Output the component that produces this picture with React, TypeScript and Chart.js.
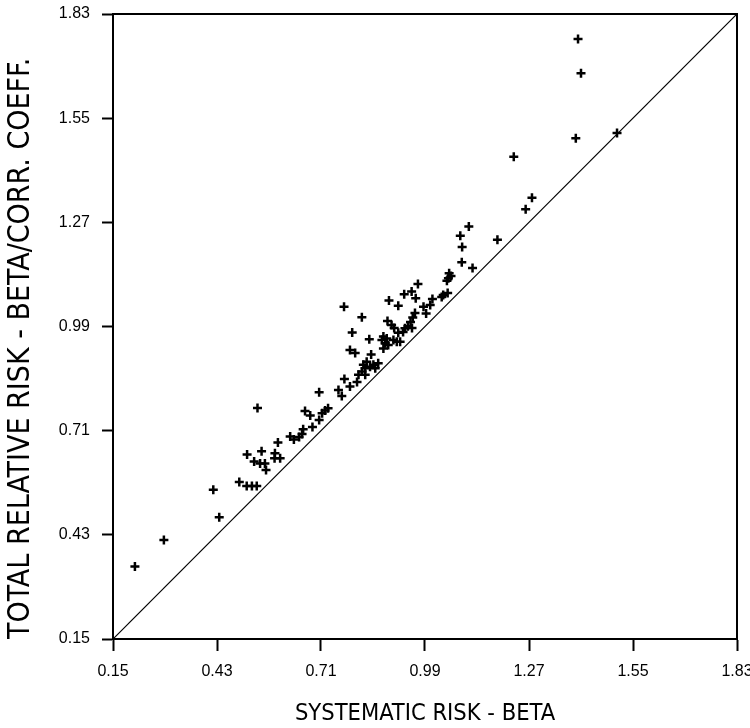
import { useEffect, useRef } from 'react';
import { Chart, registerables } from 'chart.js';

Chart.register(...registerables);

const betaValues = [
  0.209, 0.287, 0.420, 0.436, 0.539, 0.490, 0.510, 0.524, 0.537, 0.511,
  0.530, 0.550, 0.546, 0.559, 0.562, 0.586, 0.585, 0.600, 0.594, 0.627,
  0.637, 0.651, 0.659, 0.662, 0.687, 0.667, 0.681, 0.705, 0.705, 0.713,
  0.721, 0.729, 0.757, 0.766, 0.773, 0.788, 0.807, 0.772, 0.794, 0.820,
  0.788, 0.802, 0.840, 0.845, 0.833, 0.824, 0.829, 0.820, 0.829, 0.842,
  0.851, 0.864, 0.856, 0.811, 0.878, 0.887, 0.874, 0.883, 0.891, 0.905,
  0.878, 0.914, 0.923, 0.889, 0.900, 0.907, 0.918, 0.931, 0.936, 0.957,
  0.951, 0.944, 0.955, 0.963, 0.993, 0.986, 1.004, 1.010, 1.035, 1.039,
  1.051, 0.893, 0.918, 0.934, 0.954, 0.965, 0.971, 1.055, 1.060, 1.053,
  1.049, 1.089, 1.118, 1.090, 1.085, 1.108, 1.185, 1.261, 1.278, 1.229,
  1.396, 1.402, 1.410, 1.507,
];

const totalRiskValues = [
  0.345, 0.416, 0.551, 0.477, 0.771, 0.572, 0.561, 0.561, 0.561, 0.646,
  0.627, 0.655, 0.622, 0.622, 0.604, 0.649, 0.636, 0.636, 0.678, 0.694,
  0.686, 0.693, 0.701, 0.714, 0.720, 0.763, 0.751, 0.739, 0.813, 0.757,
  0.764, 0.770, 0.819, 0.803, 0.849, 0.829, 0.841, 1.043, 0.974, 1.015,
  0.927, 0.919, 0.956, 0.915, 0.895, 0.887, 0.878, 0.869, 0.860, 0.882,
  0.887, 0.891, 0.878, 0.860, 0.963, 0.958, 0.954, 0.945, 0.940, 0.954,
  0.931, 0.949, 0.949, 1.005, 0.994, 0.986, 0.973, 0.975, 0.985, 1.014,
  1.002, 0.991, 0.986, 1.026, 1.025, 1.043, 1.048, 1.064, 1.069, 1.075,
  1.080, 1.060, 1.046, 1.077, 1.084, 1.066, 1.104, 1.133, 1.126, 1.120,
  1.113, 1.163, 1.147, 1.204, 1.234, 1.259, 1.223, 1.305, 1.336, 1.446,
  1.496, 1.763, 1.671, 1.510,
];

const axisTicks = [0.15, 0.43, 0.71, 0.99, 1.27, 1.55, 1.83];
const diagonalEnds = [0.15, 1.83];
const xTitle = 'SYSTEMATIC RISK - BETA';
const yTitle = 'TOTAL RELATIVE RISK - BETA/CORR. COEFF.';

const titleFamily = "'DejaVu Sans Condensed', 'DejaVu Sans', sans-serif";
const tickFamily = "'Liberation Sans', 'DejaVu Sans', sans-serif";

const framePlugin = {
  id: 'frame',
  afterDatasetsDraw(chart: any) {
    const { ctx, chartArea } = chart;
    const { left, top, right, bottom } = chartArea;
    ctx.save();
    ctx.strokeStyle = '#000';
    ctx.lineWidth = 2;
    ctx.beginPath();
    ctx.moveTo(left, top);
    ctx.lineTo(right, top);
    ctx.lineTo(right, bottom);
    ctx.stroke();
    ctx.restore();
  },
};

export default function App() {
  const ref = useRef<HTMLCanvasElement | null>(null);

  useEffect(() => {
    if (!ref.current) return;
    const chart = new Chart(ref.current, {
      type: 'scatter',
      data: {
        datasets: [
          {
            label: 'Stocks',
            data: betaValues.map((x, i) => ({ x, y: totalRiskValues[i] })),
            pointStyle: 'cross',
            pointRadius: 4.5,
            pointHoverRadius: 4.5,
            pointBorderWidth: 2.5,
            borderColor: '#000',
            backgroundColor: '#000',
          },
          {
            label: 'Beta = Total',
            data: diagonalEnds.map((v) => ({ x: v, y: v })),
            showLine: true,
            borderColor: '#000',
            borderWidth: 1.2,
            pointRadius: 0,
            fill: false,
          } as any,
        ],
      },
      options: {
        animation: false,
        responsive: true,
        maintainAspectRatio: false,
        layout: { padding: { top: 14, right: 13, left: 0, bottom: 0 } },
        plugins: { legend: { display: false }, tooltip: { enabled: false } },
        scales: {
          x: {
            type: 'linear',
            min: 0.15,
            max: 1.83,
            afterBuildTicks: (s: any) => {
              s.ticks = axisTicks.map((v) => ({ value: v }));
            },
            afterFit: (s: any) => {
              s.height = 89;
              s.paddingLeft = 0;
              s.paddingRight = 0;
            },
            ticks: {
              callback: (v: any) => Number(v).toFixed(2),
              font: { family: tickFamily, size: 16 },
              color: '#000',
              padding: 11,
              autoSkip: false,
              maxRotation: 0,
            },
            grid: {
              display: true,
              drawOnChartArea: false,
              drawTicks: true,
              tickLength: 12,
              tickWidth: 2,
              tickColor: '#000',
            },
            border: { display: true, color: '#000', width: 2 },
            title: {
              display: true,
              text: xTitle,
              color: '#000',
              font: { family: titleFamily, size: 23.5 },
              padding: { top: 0, bottom: 0 },
            },
          },
          y: {
            type: 'linear',
            min: 0.15,
            max: 1.83,
            afterBuildTicks: (s: any) => {
              s.ticks = axisTicks.map((v) => ({ value: v }));
            },
            afterFit: (s: any) => {
              s.width = 113;
              s.paddingTop = 0;
              s.paddingBottom = 0;
            },
            ticks: {
              callback: (v: any) => Number(v).toFixed(2),
              font: { family: tickFamily, size: 16 },
              color: '#000',
              padding: 12,
              autoSkip: false,
            },
            grid: {
              display: true,
              drawOnChartArea: false,
              drawTicks: true,
              tickLength: 11,
              tickWidth: 2,
              tickColor: '#000',
            },
            border: { display: true, color: '#000', width: 2 },
            title: {
              display: true,
              text: yTitle,
              align: 'start',
              color: '#000',
              font: { family: titleFamily, size: 30 },
              padding: { top: 3, bottom: 0 },
            },
          },
        },
      },
      plugins: [framePlugin],
    } as any);
    return () => chart.destroy();
  }, []);

  return (
    <div style={{ position: 'fixed', left: 0, top: 0, width: 750, height: 728, background: '#fff' }}>
      <canvas ref={ref} />
    </div>
  );
}
